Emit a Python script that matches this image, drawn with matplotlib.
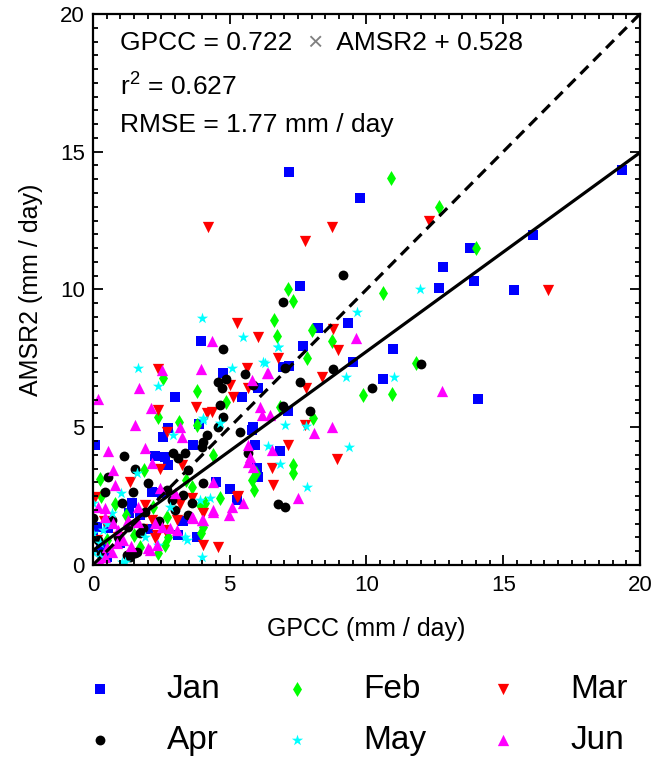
import numpy as np
import matplotlib.pyplot as plt

plt.rcParams['font.family'] = ['Liberation Sans', 'DejaVu Sans']
plt.rcParams['mathtext.default'] = 'regular'

# GPCC (x) vs AMSR2 (y), mm/day
jan_x = [7.17, 9.76, 7.57, 13.78, 12.81, 13.94, 12.65, 19.33, 16.1, 15.39, 14.09, 9.31, 8.21,
         7.67, 6.94, 7.18, 10.98, 9.52, 10.59, 7.12, 6.84, 5.92, 5.98, 6.02, 5.01, 3.95, 4.76,
         6.04, 5.44, 5.86, 3.0, 3.89, 2.73, 0.07, 2.57, 2.27, 2.63, 2.75, 3.64, 2.15, 2.51,
         1.41, 1.72, 0.13, 0.56, 3.12, 3.81, 5.25, 0.0, 5.8, 1.0, 0.5, 2.0, 3.3, 1.3, 0.3, 4.5]
jan_y = [14.27, 13.33, 10.14, 11.49, 10.83, 10.32, 10.04, 14.34, 11.98, 9.98, 6.01, 8.8, 8.61,
         7.95, 7.2, 7.23, 7.85, 7.36, 6.74, 5.59, 4.15, 4.36, 3.51, 3.2, 2.76, 8.13, 6.98,
         6.41, 6.11, 5.02, 6.11, 5.12, 4.96, 4.36, 4.66, 3.96, 3.91, 3.63, 4.36, 2.66, 2.6,
         2.24, 1.81, 1.39, 1.33, 1.09, 1.03, 2.36, 1.09, 4.9, 0.8, 0.3, 1.3, 1.6, 1.9, 0.6, 3.0]

feb_x = [10.9, 12.65, 13.99, 7.14, 7.33, 10.6, 6.62, 6.72, 8.01, 8.75, 7.84, 11.8, 9.88, 10.92,
         8.05, 7.33, 7.3, 5.96, 5.8, 5.89, 4.64, 4.1, 3.95, 4.86, 2.55, 3.79, 2.39, 3.16, 0.26,
         1.88, 3.61, 2.69, 4.03, 2.63, 6.84, 3.91, 2.75, 2.39, 1.72, 3.79, 0.5, 1.2, 0.3, 1.5,
         0.8, 2.2, 3.4, 4.4]
feb_y = [14.06, 13.0, 11.49, 10.0, 9.6, 9.86, 8.89, 8.32, 8.52, 8.13, 7.5, 7.34, 6.17, 6.19,
         5.32, 3.63, 3.35, 3.35, 3.09, 2.72, 2.42, 2.24, 1.15, 5.93, 6.78, 6.33, 5.36, 5.2, 3.11,
         3.45, 2.84, 1.75, 1.39, 0.73, 5.75, 2.18, 1.03, 0.42, 0.66, 5.08, 0.9, 1.8, 2.5, 1.1,
         2.2, 2.1, 3.1, 4.0]

mar_x = [4.22, 7.75, 8.73, 12.3, 16.62, 6.05, 8.79, 8.97, 6.75, 8.38, 7.79, 7.75, 7.14, 8.91,
         6.53, 6.57, 5.31, 4.03, 4.03, 4.58, 5.25, 5.62, 5.01, 5.13, 5.68, 4.16, 4.34, 2.39,
         2.39, 3.77, 2.69, 2.45, 3.24, 1.35, 0.07, 3.61, 1.9, 2.15, 2.33, 2.63, 3.06, 2.27,
         0.13, 5.25, 1.8, 0.9, 0.4, 3.2]
mar_y = [12.28, 11.77, 12.28, 12.5, 9.98, 8.26, 8.57, 7.8, 7.5, 6.84, 6.41, 5.08, 4.36, 3.84,
         3.53, 2.9, 2.5, 1.88, 0.73, 0.66, 8.8, 7.14, 6.53, 6.11, 6.41, 5.51, 5.56, 7.1,
         5.63, 5.75, 4.84, 3.47, 3.63, 3.02, 2.48, 2.42, 2.18, 1.63, 1.09, 1.27, 1.63, 0.97,
         0.91, 2.48, 1.3, 1.0, 1.6, 2.2]

apr_x = [9.15, 6.96, 11.99, 8.79, 7.57, 10.21, 6.94, 7.93, 6.78, 7.02, 5.37, 5.68, 4.74, 7.02,
         5.56, 4.86, 4.58, 4.7, 5.86, 4.64, 4.76, 4.58, 1.14, 4.16, 4.03, 0.56, 1.54, 2.94,
         3.36, 3.12, 3.48, 3.97, 1.47, 0.44, 2.02, 2.69, 2.88, 3.3, 0.0, 1.05, 0.68, 1.9, 1.29,
         1.72, 1.84, 3.0, 3.61, 3.48, 1.23, 1.54, 1.6, 1.35, 4.03, 0.2, 0.9, 2.4, 0.3]
apr_y = [10.53, 9.54, 7.28, 7.11, 6.65, 6.41, 5.77, 5.6, 2.21, 2.12, 4.84, 4.05, 7.84, 7.14,
         6.93, 6.74, 6.65, 6.41, 6.53, 5.81, 5.38, 5.02, 3.96, 4.72, 4.48, 3.18, 3.47, 4.05,
         4.05, 3.87, 3.45, 4.29, 2.66, 2.66, 2.97, 2.72, 2.36, 2.54, 1.7, 2.26, 1.63, 1.93, 1.39,
         1.15, 1.33, 2.0, 2.24, 1.81, 0.36, 0.42, 0.48, 0.3, 2.99, 0.9, 1.0, 1.6, 0.4]

may_x = [11.96, 9.66, 6.75, 9.25, 11.0, 7.02, 7.79, 9.36, 6.41, 6.84, 7.81, 4.28, 3.97, 5.5,
         3.97, 6.29, 5.07, 4.64, 4.01, 1.66, 2.36, 4.03, 2.94, 1.6, 1.02, 3.91, 0.0, 0.38, 0.0,
         3.36, 0.26, 0.0, 0.26, 1.05, 1.17, 3.42, 2.39, 6.78, 6.23, 0.7, 1.9, 2.8, 0.5]
may_y = [10.0, 9.19, 7.92, 6.84, 6.84, 5.08, 5.05, 4.29, 4.32, 3.66, 2.84, 2.42, 0.3, 8.26,
         8.95, 7.34, 7.14, 5.14, 5.32, 7.14, 6.5, 5.26, 4.72, 3.35, 2.62, 2.36, 2.25, 1.27, 1.15,
         1.03, 0.79, 0.48, 0.3, 0.12, 0.12, 0.91, 0.73, 7.9, 7.38, 1.9, 1.0, 2.1, 1.5]

jun_x = [9.6, 12.75, 8.73, 8.09, 6.53, 5.68, 7.51, 5.68, 5.86, 5.74, 5.5, 5.07, 4.98, 4.4, 4.4,
         4.34, 6.41, 5.8, 6.11, 6.17, 6.47, 3.95, 2.51, 1.69, 0.17, 2.12, 1.54, 3.18, 0.56, 1.9,
         3.24, 0.74, 0.8, 2.15, 2.45, 3.0, 0.2, 0.44, 1.66, 1.29, 1.66, 0.44, 0.74, 0.92, 2.27,
         2.51, 2.82, 3.61, 3.97, 2.02, 2.33, 0.5, 0.87, 0.44, 0.68, 0.26, 3.67, 4.03, 4.4, 3.06,
         2.08, 6.38, 1.1, 1.4]
jun_y = [8.23, 6.33, 5.02, 4.8, 4.17, 4.36, 2.42, 3.75, 3.57, 3.93, 2.26, 2.12, 1.81, 2.0, 3.02,
         8.13, 6.96, 6.71, 5.75, 5.44, 5.44, 7.1, 7.08, 6.41, 6.03, 5.69, 5.08, 5.02, 4.15, 4.24,
         4.66, 3.45, 2.9, 3.69, 2.78, 2.6, 2.12, 2.06, 2.12, 1.63, 1.57, 1.75, 1.51, 1.27, 1.51,
         1.39, 1.33, 1.75, 1.63, 0.61, 0.73, 0.66, 0.79, 0.3, 0.48, 0.12, 1.69, 1.63, 1.93, 1.27,
         0.54, 6.98, 0.9, 0.7]

slope, intercept = 0.722, 0.528

fig = plt.figure(figsize=(6.58, 7.59), dpi=100)
ax = fig.add_axes([0.1413, 0.2556, 0.8313, 0.726])

h_jan = ax.scatter(jan_x, jan_y, marker='s', s=46, c='#0000ff', linewidths=0, label='Jan')
h_feb = ax.scatter(feb_x, feb_y, marker='d', s=58, c='#00ff00', linewidths=0, label='Feb')
h_mar = ax.scatter(mar_x, mar_y, marker='v', s=66, c='#ff0000', linewidths=0, label='Mar')
h_apr = ax.scatter(apr_x, apr_y, marker='o', s=50, c='#000000', linewidths=0, label='Apr')
h_may = ax.scatter(may_x, may_y, marker='*', s=72, c='#00ffff', linewidths=0, label='May')
h_jun = ax.scatter(jun_x, jun_y, marker='^', s=66, c='#ff00ff', linewidths=0, label='Jun')

xx = np.array([0, 20])
ax.plot(xx, xx, 'k--', lw=2.3, dashes=(3.5, 2.2), zorder=5)
ax.plot(xx, slope * xx + intercept, 'k-', lw=2.3, zorder=5)

ax.set_xlim(0, 20)
ax.set_ylim(0, 20)
ax.set_xticks([0, 5, 10, 15, 20])
ax.set_yticks([0, 5, 10, 15, 20])
ax.set_xticks(np.arange(0, 20.01, 0.5), minor=True)
ax.set_yticks(np.arange(0, 20.01, 0.5), minor=True)
ax.tick_params(which='both', direction='in', top=True, right=True, labelsize=16, width=1.3)
ax.tick_params(which='major', length=7)
ax.tick_params(which='minor', length=3.5)
ax.tick_params(axis='x', pad=7)
ax.tick_params(axis='y', pad=6)
for sp in ax.spines.values():
    sp.set_linewidth(1.6)

ax.set_xlabel('GPCC (mm / day)', fontsize=18, labelpad=15)
ax.set_ylabel('AMSR2 (mm / day)', fontsize=18, labelpad=12)

t1 = ax.text(1.0, 18.95, 'GPCC = 0.722  ', fontsize=19, va='center')
t2 = ax.annotate('\u00d7', xy=(1, 0), xycoords=t1, ha='left', va='bottom',
                 fontsize=19, color='#808080')
ax.annotate('  AMSR2 + 0.528', xy=(1, 0), xycoords=t2, ha='left', va='bottom', fontsize=19)
ax.text(1.0, 17.35, 'r$^{2}$ = 0.627', fontsize=19, va='center')
ax.text(1.0, 15.97, 'RMSE = 1.77 mm / day', fontsize=19, va='center')

handles = [h_jan, h_apr, h_feb, h_may, h_mar, h_jun]
fig.legend(handles=handles, labels=[h.get_label() for h in handles], ncol=3,
           loc='center', bbox_to_anchor=(0.54, 0.058), frameon=False, fontsize=24,
           handletextpad=1.5, columnspacing=1.8, labelspacing=0.6, markerscale=1.0,
           handlelength=1.0)

fig.savefig('out.png', dpi=100)
